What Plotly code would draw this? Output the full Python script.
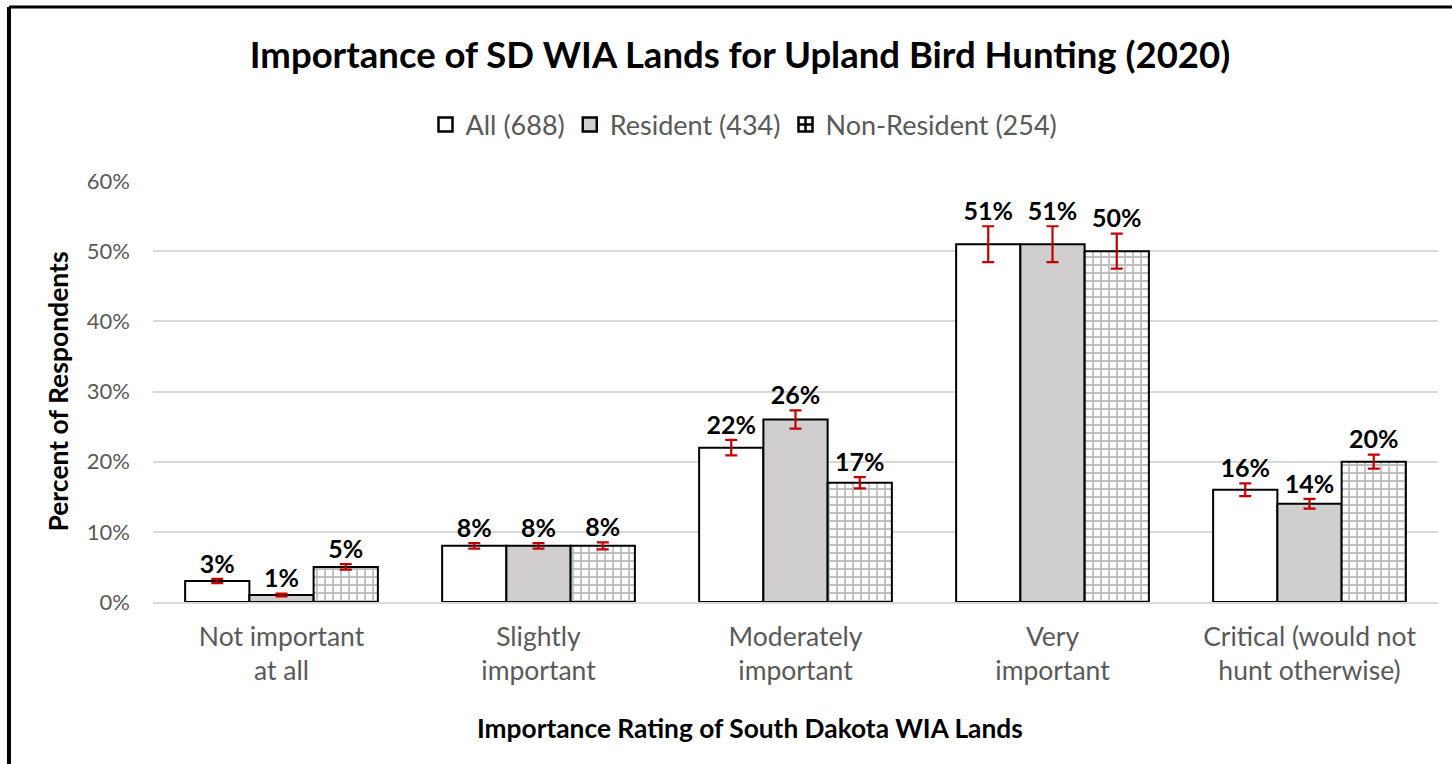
import plotly.graph_objects as go

categories = ["Not important<br>at all", "Slightly<br>important", "Moderately<br>important",
              "Very<br>important", "Critical (would not<br>hunt otherwise)"]
series_names = ["All (688)", "Resident (434)", "Non-Resident (254)"]
all_vals = [3, 8, 22, 51, 16]
res_vals = [1, 8, 26, 51, 14]
non_vals = [5, 8, 17, 50, 20]
all_err = [0.3, 0.4, 1.1, 2.55, 0.9]
res_err = [0.2, 0.4, 1.3, 2.55, 0.7]
non_err = [0.4, 0.5, 0.8, 2.5, 1.0]
y_ticks = [0, 10, 20, 30, 40, 50, 60]
y_tick_labels = ["0%", "10%", "20%", "30%", "40%", "50%", "60%"]

W, H = 1452, 764
ML, MR, MT, MB = 153, 14, 181, 162
PW, PH = W - ML - MR, H - MT - MB

FONT = "Lato"
GREY = "#595959"
ERR_COLOR = "#C00000"
FILLS = ["white", "#D0CECE", "white"]
LEGEND_SYMBOLS = ["square", "square", "square-cross"]
PATTERN = dict(shape="+", fgcolor="#808080", bgcolor="white", size=8, solidity=0.4)

fig = go.Figure()
for i, (name, vals, errs) in enumerate(zip(series_names, [all_vals, res_vals, non_vals], [all_err, res_err, non_err])):
    marker = dict(color=FILLS[i], line=dict(color="black", width=2))
    if i == 2:
        marker["pattern"] = PATTERN
    fig.add_trace(go.Bar(
        x=categories, y=vals, name=name, marker=marker, offsetgroup=str(i),
        error_y=dict(type="data", array=errs, visible=True, color=ERR_COLOR, thickness=2.2, width=6),
        hoverinfo="skip", showlegend=False,
    ))
for i, (vals, errs) in enumerate(zip([all_vals, res_vals, non_vals], [all_err, res_err, non_err])):
    fig.add_trace(go.Scatter(
        x=categories, y=[v + e for v, e in zip(vals, errs)], mode="text",
        text=[f"{v}%" for v in vals], textposition="top center", offsetgroup=str(i),
        marker=dict(size=12),
        textfont=dict(family=FONT, size=25, color="black", weight="bold"),
        showlegend=False, hoverinfo="skip", cliponaxis=False,
    ))
for i, name in enumerate(series_names):
    fig.add_trace(go.Scatter(
        x=[None], y=[None], mode="markers", name=name, offsetgroup=str(i),
        marker=dict(symbol=LEGEND_SYMBOLS[i], size=14, color=FILLS[i],
                    line=dict(color="black", width=2.5)),
        hoverinfo="skip",
    ))

fig.update_layout(
    width=W, height=H,
    margin=dict(l=ML, r=MR, t=MT, b=MB),
    paper_bgcolor="white", plot_bgcolor="white",
    barmode="group", bargap=0.25, bargroupgap=0,
    scattermode="group", scattergap=0.25,
    font=dict(family=FONT, color=GREY),
    title=dict(text="<b>Importance of SD WIA Lands for Upland Bird Hunting (2020)</b>",
               x=740 / W, xanchor="center", y=1 - 55 / H, yanchor="middle",
               font=dict(family=FONT, size=36.5, color="black")),
    legend=dict(orientation="h", x=(744 - ML) / PW, xanchor="center",
                y=1 + (MT - 125) / PH, yanchor="middle",
                font=dict(family=FONT, size=27, color=GREY),
                itemwidth=30, tracegroupgap=0),
    xaxis=dict(showgrid=False, showline=True, linecolor="#D9D9D9", linewidth=2,
               ticks="", tickfont=dict(family=FONT, size=26.5, color=GREY), ticklabelstandoff=10),
    yaxis=dict(range=[0, 60], tickvals=y_ticks, ticktext=y_tick_labels,
               showgrid=True, gridcolor="#D9D9D9", gridwidth=2, zeroline=False,
               tickfont=dict(family=FONT, size=22, color=GREY), ticklabelstandoff=22,
               title=dict(text="<b>Percent of Respondents</b>",
                          font=dict(family=FONT, size=26.5, color="black"), standoff=10)),
    annotations=[
        dict(text="<b>Importance Rating of South Dakota WIA Lands</b>",
             xref="paper", yref="paper", x=(750 - ML) / PW, y=-(728 - (MT + PH)) / PH,
             xanchor="center", yanchor="middle", showarrow=False,
             font=dict(family=FONT, size=26.3, color="black")),
    ],
    shapes=[
        dict(type="line", xref="paper", yref="paper",
             x0=(9 - ML) / PW, x1=(W + 10 - ML) / PW,
             y0=1 + (MT - 7) / PH, y1=1 + (MT - 7) / PH,
             line=dict(color="black", width=3)),
        dict(type="line", xref="paper", yref="paper",
             x0=(9 - ML) / PW, x1=(9 - ML) / PW,
             y0=1 + (MT - 7) / PH, y1=-(MB + 10) / PH,
             line=dict(color="black", width=4)),
    ],
)

fig.write_html("out.html", config={"displayModeBar": False},
               post_script="document.body.style.margin='0';")
